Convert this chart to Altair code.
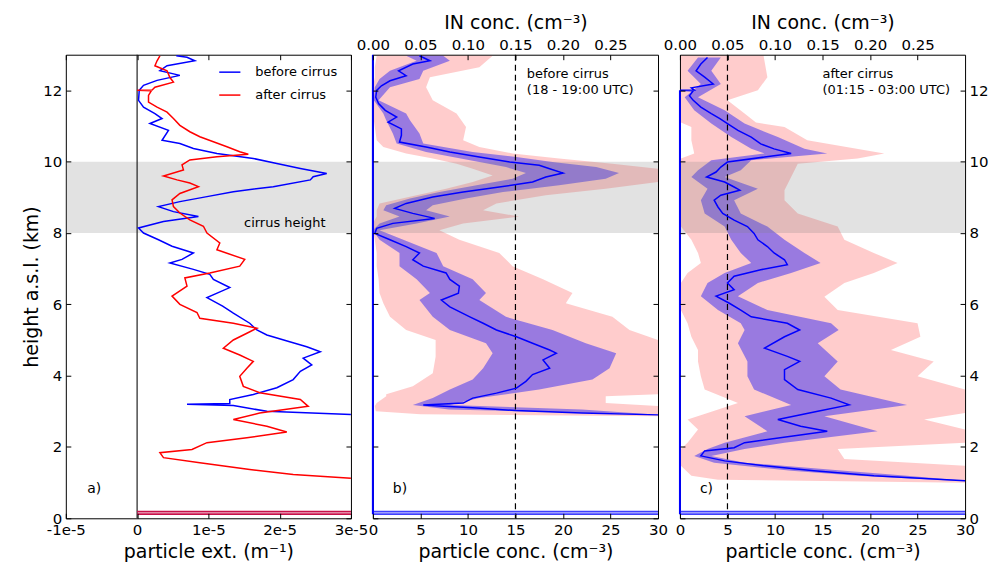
import altair as alt
import pandas as pd

FONT = "DejaVu Sans"

# ---------------- panel a: particle extinction (in units of 1e-5 m^-1) ----------------
EXT_UNIT = 1e-5
a_before = [(12.97, 0.55), (12.93, 0.70), (12.83, 0.81), (12.69, 0.42), (12.55, 0.32), (12.42, 0.60),
            (12.28, 0.28), (12.14, 0.09), (12.0, 0.03), (11.72, 0.02), (11.53, 0.09), (11.35, 0.25),
            (11.21, 0.35), (11.07, 0.18), (10.88, 0.44), (10.6, 0.35), (10.51, 0.60), (10.37, 0.79),
            (10.23, 1.12), (10.09, 1.63), (9.95, 1.96), (9.81, 2.29), (9.67, 2.66), (9.58, 2.47),
            (9.49, 2.43), (9.30, 1.91), (9.16, 1.35), (9.02, 0.98), (8.88, 0.60), (8.74, 0.30),
            (8.60, 0.51), (8.46, 0.86), (8.32, 0.37), (8.14, 0.02), (8.0, 0.09), (7.81, 0.30),
            (7.63, 0.49), (7.44, 0.79), (7.26, 0.63), (7.16, 0.46), (6.98, 0.79), (6.84, 1.02),
            (6.70, 1.07), (6.47, 1.30), (6.19, 0.98), (5.95, 1.20), (5.75, 1.35), (5.47, 1.58),
            (5.28, 1.68), (5.14, 1.82), (4.95, 2.14), (4.81, 2.38), (4.67, 2.57), (4.49, 2.33),
            (4.30, 2.45), (4.12, 2.29), (3.89, 2.19), (3.66, 1.96), (3.47, 1.63), (3.33, 1.30),
            (3.22, 1.30), (3.20, 0.70), (3.16, 1.35), (3.0, 1.82), (2.91, 3.0)]
a_after = [(12.97, 0.32), (12.83, 0.28), (12.69, 0.25), (12.55, 0.42), (12.36, 0.46), (12.23, 0.51),
           (12.09, 0.25), (12.01, 0.21), (12.0, 0.0), (11.99, 0.20), (11.86, 0.16), (11.67, 0.16),
           (11.53, 0.28), (11.39, 0.42), (11.21, 0.51), (11.02, 0.60), (10.84, 0.74), (10.70, 0.88),
           (10.56, 1.07), (10.42, 1.26), (10.28, 1.44), (10.21, 1.56), (10.14, 1.12), (10.05, 0.74),
           (9.91, 0.63), (9.77, 0.65), (9.60, 0.37), (9.49, 0.56), (9.40, 0.74), (9.30, 0.86),
           (9.11, 0.60), (8.93, 0.49), (8.74, 0.51), (8.56, 0.60), (8.37, 0.74), (8.19, 0.93),
           (8.0, 0.98), (7.72, 1.16), (7.53, 1.12), (7.26, 1.51), (7.07, 1.44), (6.88, 1.02),
           (6.74, 0.67), (6.51, 0.70), (6.23, 0.49), (6.0, 0.60), (5.77, 0.84), (5.61, 0.88),
           (5.47, 1.35), (5.33, 1.68), (5.19, 1.54), (5.00, 1.35), (4.77, 1.21), (4.58, 1.44),
           (4.40, 1.63), (4.21, 1.54), (3.98, 1.44), (3.70, 1.49), (3.52, 1.72), (3.33, 2.29),
           (3.14, 2.40), (2.95, 1.72), (2.77, 1.35), (2.58, 1.82), (2.42, 2.10), (2.26, 1.54),
           (2.12, 0.98), (1.93, 0.77), (1.84, 0.32), (1.70, 0.37), (1.56, 0.88), (1.37, 1.58),
           (1.23, 2.19), (1.12, 3.0)]
a_series = ["before cirrus", "after cirrus"]
a_colors = ["#0000ff", "#ff0000"]
a_xdomain = [-1, 3]
a_xticks = [-1, 0, 1, 2, 3]
a_xtick_labels = ["-1e-5", "0", "1e-5", "2e-5", "3e-5"]

# ---------------- panel b: before cirrus ----------------
b_mean = [(12.97, 4.9), (12.83, 6.0), (12.74, 4.2), (12.55, 2.7), (12.41, 3.5), (12.27, 1.8), (12.13, 0.9),
          (12.0, 0.4), (11.81, 0.3), (11.63, 0.6), (11.44, 1.3), (11.25, 2.5), (11.11, 1.6), (10.92, 3.0),
          (10.74, 3.0), (10.55, 2.8), (10.41, 5.6), (10.27, 8.1), (10.13, 11.2), (9.99, 14.4), (9.90, 17.5),
          (9.80, 18.6), (9.68, 20.0), (9.57, 18.2), (9.43, 16.8), (9.29, 13.3), (9.15, 9.5), (9.01, 6.3),
          (8.83, 3.5), (8.69, 2.3), (8.55, 4.2), (8.41, 6.5), (8.27, 2.1), (8.13, 0.4), (7.99, 0.2),
          (7.81, 1.8), (7.62, 3.5), (7.44, 4.9), (7.25, 4.2), (7.07, 5.3), (6.88, 7.7), (6.70, 8.1),
          (6.51, 9.1), (6.31, 9.0), (6.12, 7.2), (5.93, 8.1), (5.65, 10.2), (5.47, 11.6), (5.28, 13.0),
          (5.09, 15.1), (4.91, 16.8), (4.72, 18.6), (4.63, 19.3), (4.44, 17.9), (4.21, 18.6), (4.03, 16.8),
          (3.84, 16.1), (3.65, 15.1), (3.51, 13.0), (3.37, 10.5), (3.23, 9.5), (3.18, 5.3), (3.15, 7.0),
          (3.10, 10.5), (3.02, 15.0), (2.95, 22.0), (2.90, 30.0)]
b_inner = [(12.97, 3.5, 7.4), (12.83, 4.6, 8.1), (12.55, 1.8, 5.3), (12.32, 0.7, 4.9), (12.09, 0.2, 1.8),
           (11.72, 0.1, 0.6), (11.35, 1.1, 3.5), (11.16, 1.4, 3.9), (10.79, 2.1, 4.9), (10.51, 2.5, 5.3),
           (10.27, 5.6, 10.5), (10.13, 8.4, 15.1), (9.99, 11.2, 18.9), (9.85, 14.0, 23.5), (9.68, 16.1, 25.9),
           (9.52, 14.7, 24.5), (9.34, 10.9, 19.6), (9.15, 7.0, 13.7), (8.97, 3.9, 9.8), (8.78, 1.4, 6.3),
           (8.64, 1.1, 5.6), (8.46, 2.8, 8.1), (8.27, 0.7, 4.6), (8.08, 0.0, 0.7), (7.81, 0.7, 3.2),
           (7.44, 2.8, 6.7), (7.07, 2.8, 7.4), (6.70, 4.6, 10.5), (6.32, 6.0, 11.9), (6.12, 4.9, 11.2),
           (5.65, 6.3, 14.0), (5.28, 8.1, 18.9), (4.91, 11.9, 22.4), (4.63, 12.6, 25.6), (4.21, 11.6, 24.9),
           (3.89, 10.5, 23.1), (3.61, 8.1, 17.5), (3.37, 6.3, 11.2), (3.18, 4.2, 8.1), (3.05, 8.0, 22.0),
           (2.90, 30.0, 30.0)]
b_outer = [(12.97, 0.4, 12.6), (12.65, 0.2, 11.2), (12.37, 0.2, 6.0), (12.09, 0.0, 5.6), (11.72, 0.0, 6.3),
           (11.35, 0.0, 8.8), (10.97, 0.2, 9.8), (10.60, 0.4, 9.5), (10.41, 1.1, 11.2), (10.23, 3.5, 14.7),
           (10.09, 6.3, 19.6), (9.94, 8.8, 25.2), (9.80, 10.5, 30.0), (9.61, 12.6, 30.0), (9.43, 10.5, 30.0),
           (9.24, 7.7, 24.5), (9.06, 4.6, 18.2), (8.83, 0.7, 13.0), (8.64, 0.4, 11.6), (8.46, 0.4, 15.4),
           (8.27, 0.0, 9.5), (8.08, 0.0, 7.0), (7.81, 0.2, 9.1), (7.44, 0.4, 13.3), (7.07, 0.4, 14.7),
           (6.70, 0.6, 17.9), (6.32, 0.7, 21.0), (6.03, 1.1, 20.3), (5.65, 1.8, 25.2), (5.28, 3.5, 27.0),
           (5.0, 6.6, 30.0), (4.53, 6.6, 30.0), (4.07, 6.3, 30.0), (3.70, 4.2, 30.0), (3.48, 1.4, 30.0),
           (3.42, 1.4, 24.5), (3.23, 0.4, 24.5), (3.15, 0.2, 30.0), (3.0, 0.3, 30.0), (2.92, 5.0, 30.0),
           (2.86, 30.0, 30.0)]

# ---------------- panel c: after cirrus ----------------
c_mean = [(12.92, 2.9), (12.74, 2.2), (12.55, 1.7), (12.37, 2.6), (12.18, 3.5), (12.07, 1.2), (12.01, 1.5),
          (12.0, 0.0), (11.99, 1.4), (11.85, 1.0), (11.72, 1.4), (11.53, 2.2), (11.35, 3.3), (11.21, 4.2),
          (11.07, 5.0), (10.88, 6.1), (10.69, 7.5), (10.50, 8.5), (10.36, 9.9), (10.23, 11.7), (10.13, 8.9),
          (9.99, 5.0), (9.85, 4.3), (9.71, 3.8), (9.57, 2.8), (9.43, 4.7), (9.29, 5.7), (9.20, 6.3),
          (9.06, 4.3), (8.92, 3.6), (8.73, 4.0), (8.55, 4.5), (8.36, 5.7), (8.18, 7.1), (7.99, 7.8),
          (7.81, 8.2), (7.62, 9.2), (7.44, 9.9), (7.25, 11.0), (7.11, 11.3), (6.97, 8.5), (6.79, 5.7),
          (6.60, 5.0), (6.41, 5.7), (6.23, 3.8), (6.03, 5.2), (5.84, 6.4), (5.65, 7.5), (5.47, 11.3),
          (5.28, 12.6), (5.09, 11.0), (4.77, 8.9), (4.54, 11.3), (4.40, 12.6), (4.17, 11.0), (3.89, 11.0),
          (3.61, 12.4), (3.37, 15.9), (3.18, 17.8), (3.00, 14.5), (2.77, 10.3), (2.58, 12.7), (2.44, 15.5),
          (2.30, 11.7), (2.12, 6.8), (1.98, 5.7), (1.89, 2.6), (1.75, 2.2), (1.61, 4.7), (1.47, 8.9),
          (1.33, 14.1), (1.19, 20.4), (1.05, 30.0)]
c_inner = [(12.92, 1.9, 4.3), (12.55, 0.8, 3.3), (12.18, 2.2, 4.3), (11.81, 0.5, 1.9), (11.44, 1.5, 4.7),
           (11.07, 3.3, 6.8), (10.69, 5.4, 10.3), (10.36, 7.5, 13.1), (10.23, 8.9, 15.5), (10.04, 3.3, 7.5),
           (9.76, 1.9, 6.4), (9.57, 1.2, 4.7), (9.24, 2.9, 8.2), (8.92, 2.2, 5.7), (8.55, 2.6, 6.4),
           (8.18, 4.7, 9.2), (7.81, 5.4, 11.0), (7.44, 6.4, 13.1), (7.16, 7.5, 14.8), (6.88, 4.7, 11.7),
           (6.60, 2.9, 8.2), (6.23, 2.2, 6.1), (5.84, 4.0, 9.2), (5.47, 6.4, 15.9), (5.28, 6.8, 16.7),
           (4.91, 6.1, 14.5), (4.40, 7.1, 16.6), (3.98, 7.1, 15.2), (3.61, 7.8, 16.9), (3.18, 11.7, 23.9),
           (2.86, 6.8, 15.2), (2.44, 9.2, 20.8), (2.12, 4.7, 11.0), (1.94, 2.9, 6.8), (1.75, 1.5, 3.3),
           (1.56, 3.6, 6.8), (1.33, 11.7, 17.3), (1.19, 18.7, 23.9), (1.05, 29.0, 30.0)]
c_outer = [(12.97, 0.1, 8.8), (12.37, 0.1, 9.2), (12.0, 0.1, 8.2), (11.72, 0.1, 5.0), (11.35, 0.1, 6.8),
           (11.1, 0.1, 8.0), (10.97, 1.2, 11.0), (10.60, 1.2, 13.4), (10.23, 1.5, 21.5), (10.09, 0.1, 18.7),
           (9.94, 0.1, 12.4), (9.57, 0.1, 11.7), (9.20, 0.1, 11.0), (8.92, 0.1, 11.0), (8.55, 0.1, 12.4),
           (8.18, 0.1, 16.6), (7.81, 1.2, 17.3), (7.44, 1.9, 20.4), (7.16, 2.2, 22.9), (6.88, 0.8, 20.4),
           (6.60, 0.1, 17.3), (6.21, 0.1, 15.2), (5.84, 0.1, 16.6), (5.47, 0.8, 25.0), (5.09, 1.2, 25.3),
           (4.72, 1.9, 22.2), (4.40, 1.9, 26.7), (3.98, 2.2, 25.0), (3.61, 2.6, 30.0), (3.23, 6.1, 30.0),
           (2.95, 2.9, 30.0), (2.77, 0.8, 25.7), (2.49, 1.9, 30.0), (2.12, 0.8, 30.0), (1.94, 0.1, 16.6),
           (1.66, 0.1, 17.3), (1.47, 0.1, 30.0), (1.19, 1.2, 30.0), (1.08, 4.0, 30.0), (1.0, 30.0, 30.0)]

# ---------------- shared axis values ----------------
conc_domain = [0, 30]
conc_ticks = [0, 5, 10, 15, 20, 25, 30]
in_ticks = [0.00, 0.05, 0.10, 0.15, 0.20, 0.25]
IN_FACTOR = 100  # particle conc / IN conc
height_domain = [0, 13]
height_ticks = [0, 2, 4, 6, 8, 10, 12]
cirrus_band = (8, 10)
bottom_lines_h = [0.115, 0.185]

W, H = 286, 465

ys = alt.Scale(domain=height_domain, nice=False, zero=False)


def axis(orient, values, labels=True, title=None, label_expr=None, title_pad=6, label_pad=4):
    kw = dict(orient=orient, values=values, domain=False, grid=False, offset=-5, tickSize=5,
              tickColor="black", tickWidth=1, labels=labels, labelFont=FONT, labelFontSize=15,
              labelColor="black", labelPadding=label_pad, labelFlush=False, labelOverlap=False, zindex=2,
              titleFont=FONT, titleFontSize=19, titleFontWeight="normal", titleColor="black",
              titlePadding=title_pad, title=title)
    if label_expr is not None:
        kw["labelExpr"] = label_expr
    return alt.Axis(**kw)


def frame_layers(xs, xdom, xb, xt, yl, yr):
    frame = pd.DataFrame({"x0": [xdom[0]], "x1": [xdom[1]], "y0": [height_domain[0]], "y1": [height_domain[1]]})
    l1 = alt.Chart(frame).mark_rect(opacity=0).encode(
        x=alt.X("x0:Q", scale=xs, axis=xb), x2="x1:Q",
        y=alt.Y("y0:Q", scale=ys, axis=yl), y2="y1:Q")
    l2 = alt.Chart(frame).mark_rect(opacity=0).encode(
        x=alt.X("x0:Q", scale=xs, axis=xt), x2="x1:Q",
        y=alt.Y("y0:Q", scale=ys, axis=yr), y2="y1:Q")
    return [l1, l2]


def band_layer(xs, xdom):
    df = pd.DataFrame({"x0": [xdom[0]], "x1": [xdom[1]], "y0": [cirrus_band[0]], "y1": [cirrus_band[1]]})
    return alt.Chart(df).mark_rect(color="#808080", opacity=0.23).encode(
        x=alt.X("x0:Q", scale=xs, axis=None), x2="x1:Q",
        y=alt.Y("y0:Q", scale=ys, axis=None), y2="y1:Q")


def area_layer(xs, rows, color, opacity):
    df = pd.DataFrame(rows, columns=["h", "lo", "hi"])
    return alt.Chart(df).mark_area(orient="horizontal", color=color, opacity=opacity, clip=True).encode(
        y=alt.Y("h:Q", scale=ys, axis=None),
        x=alt.X("lo:Q", scale=xs, axis=None), x2="hi:Q")


def line_layer(xs, rows, color, width=1.5):
    df = pd.DataFrame(rows, columns=["h", "x"])
    df["i"] = range(len(df))
    return alt.Chart(df).mark_line(color=color, strokeWidth=width, clip=True).encode(
        x=alt.X("x:Q", scale=xs, axis=None), y=alt.Y("h:Q", scale=ys, axis=None), order="i:Q")


def hlines_layer(xs, x0, x1, color):
    df = pd.DataFrame({"h": bottom_lines_h, "x0": x0, "x1": x1})
    return alt.Chart(df).mark_rule(color=color, strokeWidth=1.8).encode(
        x=alt.X("x0:Q", scale=xs, axis=None), x2="x1:Q", y=alt.Y("h:Q", scale=ys, axis=None))


def text_layer(xs, x, h, txt, size=13, baseline="middle"):
    df = pd.DataFrame({"x": [x], "h": [h], "t": [txt]})
    return alt.Chart(df).mark_text(align="left", baseline=baseline, font=FONT, fontSize=size,
                                   color="black", lineBreak="\n", lineHeight=16).encode(
        x=alt.X("x:Q", scale=xs, axis=None), y=alt.Y("h:Q", scale=ys, axis=None), text="t:N")


# ---------------- panel a ----------------
xa_dom = [v * EXT_UNIT for v in a_xdomain]
xa = alt.Scale(domain=xa_dom, nice=False, zero=False)
a_rows = []
for name, prof in zip(a_series, [a_before, a_after]):
    for i, (h, x) in enumerate(prof):
        a_rows.append({"series": name, "h": h, "x": x * EXT_UNIT, "i": i})
a_df = pd.DataFrame(a_rows)
a_label_expr = "[" + ",".join("'%s'" % s for s in a_xtick_labels) + "][round(datum.value*%g)+1]" % (1 / EXT_UNIT)

a_lines = alt.Chart(a_df).mark_line(strokeWidth=1.5, clip=True).encode(
    x=alt.X("x:Q", scale=xa, axis=None), y=alt.Y("h:Q", scale=ys, axis=None), order="i:Q",
    color=alt.Color("series:N", scale=alt.Scale(domain=a_series, range=a_colors),
                    legend=alt.Legend(orient="none", legendX=153, legendY=6, title=None,
                                      symbolType="stroke", symbolStrokeWidth=1.5, symbolSize=450,
                                      labelFont=FONT, labelFontSize=13, labelColor="black",
                                      labelOffset=14, rowPadding=4, symbolOffset=0)))
zero_rule = alt.Chart(pd.DataFrame({"x": [0.0]})).mark_rule(color="#222222", strokeWidth=1.2).encode(
    x=alt.X("x:Q", scale=xa, axis=None))
a_fr = frame_layers(
    xa, xa_dom,
    axis("bottom", [v * EXT_UNIT for v in a_xticks], title="particle ext. (m⁻¹)", label_expr=a_label_expr,
         title_pad=5),
    axis("top", [v * EXT_UNIT for v in a_xticks], labels=False),
    axis("left", height_ticks, title="height a.s.l. (km)", title_pad=1),
    axis("right", height_ticks, labels=False))
panel_a = alt.layer(
    band_layer(xa, xa_dom), zero_rule,
    hlines_layer(xa, 0.0, xa_dom[1], "#c8104a"),
    a_lines,
    text_layer(xa, 1.5 * EXT_UNIT, 8.27, "cirrus height", 13),
    text_layer(xa, -0.7 * EXT_UNIT, 0.81, "a)", 14),
    *a_fr
).resolve_axis(x="independent", y="independent").properties(width=W, height=H)

in_expr = "format(datum.value/%d, '.2f')" % IN_FACTOR
in_vals = [round(v * IN_FACTOR, 6) for v in in_ticks]


def conc_panel(mean, inner, outer, thr, note, letter, vline_top, right_labels):
    xs = alt.Scale(domain=conc_domain, nice=False, zero=False)
    thr_rule = alt.Chart(pd.DataFrame({"x": [thr]})).mark_rule(
        color="black", strokeDash=[6, 4], strokeWidth=1.2).encode(x=alt.X("x:Q", scale=xs, axis=None))
    vline = alt.Chart(pd.DataFrame({"x": [0.0], "y0": [bottom_lines_h[0]], "y1": [vline_top]})).mark_rule(
        color="#0000ff", strokeWidth=2).encode(
        x=alt.X("x:Q", scale=xs, axis=None), y=alt.Y("y0:Q", scale=ys, axis=None), y2="y1:Q")
    fr = frame_layers(
        xs, conc_domain,
        axis("bottom", conc_ticks, title="particle conc. (cm⁻³)", title_pad=5),
        axis("top", in_vals, title="IN conc. (cm⁻³)", label_expr=in_expr, title_pad=5, label_pad=2),
        axis("left", height_ticks, labels=False),
        axis("right", height_ticks, labels=right_labels))
    return alt.layer(
        area_layer(xs, outer, "#ff0000", 0.2),
        area_layer(xs, inner, "#0000ff", 0.4),
        band_layer(xs, conc_domain),
        thr_rule,
        hlines_layer(xs, conc_domain[0], conc_domain[1], "#4040ff"),
        vline,
        line_layer(xs, mean, "#0000ff"),
        text_layer(xs, note[0], note[1], note[2], 13, "top"),
        text_layer(xs, 2.1, 0.81, letter, 14),
        *fr
    ).resolve_axis(x="independent", y="independent").properties(width=W, height=H)


panel_b = conc_panel(b_mean, b_inner, b_outer, 15, (16.2, 12.62, "before cirrus\n(18 - 19:00 UTC)"),
                     "b)", 13.0, False)
panel_c = conc_panel(c_mean, c_inner, c_outer, 5, (15.0, 12.62, "after cirrus\n(01:15 - 03:00 UTC)"),
                     "c)", 12.0, True)

chart = alt.hconcat(panel_a, panel_b, panel_c, spacing=22, bounds="flush").configure_view(
    stroke="black", strokeWidth=1).properties(padding={"left": 14, "right": 0, "top": 4, "bottom": 0})

chart.save("out.html", embed_options={"renderer": "svg", "actions": False})
